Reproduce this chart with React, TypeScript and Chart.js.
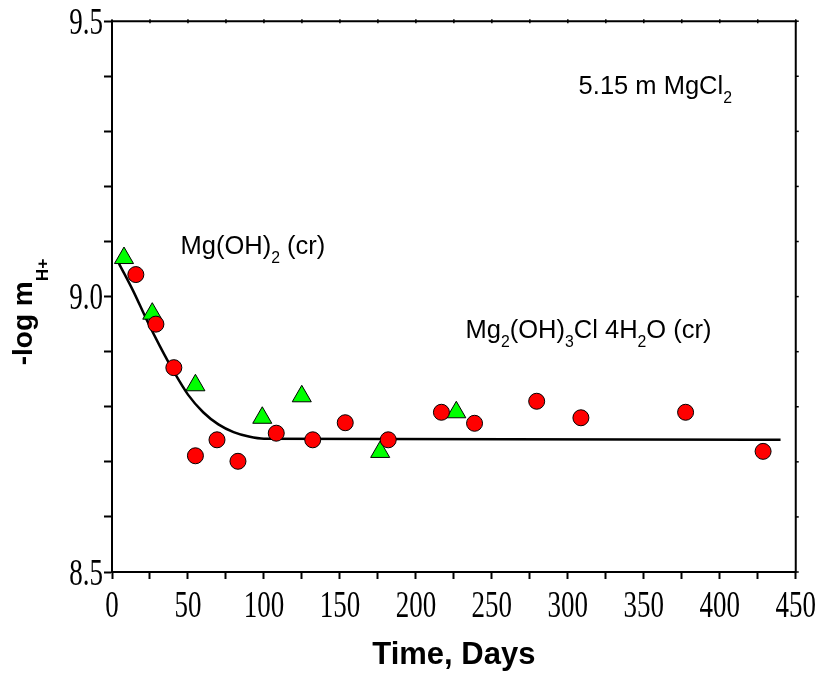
import React, { useEffect, useRef } from "react";
import { Chart, registerables } from "chart.js";
Chart.register(...registerables);

// Red circles: measured -log mH+ vs time (days)
const redDays = [15.7, 28.9, 40.7, 54.9, 69.1, 82.9, 108.1, 132.1, 153.5, 181.8, 216.8, 238.6, 279.5, 308.6, 377.5, 428.5];
const redPH = [9.04, 8.95, 8.871, 8.711, 8.74, 8.701, 8.752, 8.74, 8.771, 8.74, 8.79, 8.77, 8.81, 8.78, 8.79, 8.719];
// Green triangles
const greenDays = [7.9, 26.5, 54.9, 98.9, 124.9, 176.5, 226.6];
const greenPH = [9.07, 8.969, 8.839, 8.78, 8.819, 8.718, 8.79];
// Fitted curve
const fitDays = [4.6, 14, 22.8, 31.5, 40.2, 50, 60, 70, 80, 90, 100, 440];
const fitPH = [9.06, 9.01, 8.958, 8.91, 8.866, 8.822, 8.79, 8.768, 8.754, 8.746, 8.742, 8.74];

const xTicksMajor = [0, 50, 100, 150, 200, 250, 300, 350, 400, 450];
const yTicksMajor = ["8.5", "9.0", "9.5"];

type Run = { t: string; sub?: boolean };
// Annotations: runs, anchor in data units (left, baseline)
const annotations: { runs: Run[]; x: number; y: number }[] = [
  { runs: [{ t: "5.15 m MgCl" }, { t: "2", sub: true }], x: 307.1, y: 9.368 },
  { runs: [{ t: "Mg(OH)" }, { t: "2", sub: true }, { t: " (cr)" }], x: 45.1, y: 9.077 },
  {
    runs: [
      { t: "Mg" }, { t: "2", sub: true }, { t: "(OH)" }, { t: "3", sub: true },
      { t: "Cl 4H" }, { t: "2", sub: true }, { t: "O (cr)" },
    ],
    x: 232.7,
    y: 8.924,
  },
];
const xTitle = "Time, Days";
const yTitleRuns: Run[] = [{ t: "-log m" }, { t: "H+", sub: true }];

const SANS = "'Liberation Sans', Arial, Helvetica, sans-serif";
const SERIF = "'Liberation Serif', 'Times New Roman', serif";
const TICK_SIZE = 27;
const TICK_STRETCH = 1.4;

function runsWidth(ctx: CanvasRenderingContext2D, runs: Run[], size: number, bold: boolean, subScale: number) {
  let w = 0;
  for (const r of runs) {
    const s = r.sub ? size * subScale : size;
    ctx.font = `${bold ? "bold " : ""}${s}px ${SANS}`;
    w += ctx.measureText(r.t).width;
  }
  return w;
}

function drawRuns(
  ctx: CanvasRenderingContext2D, runs: Run[], x: number, y: number,
  size: number, bold: boolean, subScale: number, subOffset: number
) {
  let cx = x;
  ctx.textAlign = "left";
  ctx.textBaseline = "alphabetic";
  for (const r of runs) {
    const s = r.sub ? size * subScale : size;
    ctx.font = `${bold ? "bold " : ""}${s}px ${SANS}`;
    ctx.fillText(r.t, cx, r.sub ? y + subOffset : y);
    cx += ctx.measureText(r.t).width;
  }
}

const decorPlugin = {
  id: "decor",
  afterDraw(chart: any) {
    const { ctx, chartArea, scales } = chart;
    const xs = scales.x;
    const ys = scales.y;
    ctx.save();
    ctx.strokeStyle = "#000";
    ctx.lineWidth = 2;
    ctx.beginPath();
    ctx.moveTo(chartArea.left - 1, chartArea.top);
    ctx.lineTo(chartArea.right, chartArea.top);
    ctx.lineTo(chartArea.right, chartArea.bottom + 1);
    ctx.stroke();
    // small ticks on top and right
    ctx.lineWidth = 1.5;
    for (const t of xs.ticks) {
      const px = xs.getPixelForValue(t.value);
      ctx.beginPath();
      ctx.moveTo(px, chartArea.top - 2);
      ctx.lineTo(px, chartArea.top + 2);
      ctx.stroke();
    }
    for (const t of ys.ticks) {
      const py = ys.getPixelForValue(t.value);
      ctx.beginPath();
      ctx.moveTo(chartArea.right, py);
      ctx.lineTo(chartArea.right + 3, py);
      ctx.stroke();
    }
    ctx.fillStyle = "#000";
    // tick labels (tall serif digits)
    ctx.font = `${TICK_SIZE}px ${SERIF}`;
    ctx.textBaseline = "alphabetic";
    const digitH = 0.676 * TICK_SIZE * TICK_STRETCH;
    ctx.textAlign = "center";
    for (const t of xs.ticks) {
      if (!t.label) continue;
      const px = xs.getPixelForValue(t.value);
      ctx.save();
      ctx.translate(px, 617);
      ctx.scale(1, TICK_STRETCH);
      ctx.fillText(String(t.label), 0, 0);
      ctx.restore();
    }
    ctx.textAlign = "right";
    for (const t of ys.ticks) {
      if (!t.label) continue;
      const py = ys.getPixelForValue(t.value);
      ctx.save();
      ctx.translate(chartArea.left - 9, py + digitH / 2);
      ctx.scale(1, TICK_STRETCH);
      ctx.fillText(String(t.label), 0, 0);
      ctx.restore();
    }
    // annotations
    for (const a of annotations) {
      const px = xs.getPixelForValue(a.x);
      const py = ys.getPixelForValue(a.y);
      drawRuns(ctx, a.runs, px, py, 25.5, false, 0.62, 9);
    }
    // x title
    ctx.font = `bold 31px ${SANS}`;
    ctx.textAlign = "center";
    ctx.textBaseline = "alphabetic";
    ctx.fillText(xTitle, (chartArea.left + chartArea.right) / 2, 664);
    // y title
    const w = runsWidth(ctx, yTitleRuns, 28, true, 0.62);
    ctx.translate(32, 312);
    ctx.rotate(-Math.PI / 2);
    drawRuns(ctx, yTitleRuns, -w / 2, 0, 28, true, 0.62, 16);
    ctx.restore();
  },
};

export default function App() {
  const ref = useRef<HTMLCanvasElement>(null);
  useEffect(() => {
    if (!ref.current) return;
    const chart = new Chart(ref.current, {
      type: "scatter",
      data: {
        datasets: [
          {
            label: "red",
            data: redDays.map((d, i) => ({ x: d, y: redPH[i] })),
            pointStyle: "circle",
            pointRadius: 8,
            pointBackgroundColor: "#ff0000",
            pointBorderColor: "#000",
            pointBorderWidth: 1,
          },
          {
            label: "green",
            data: greenDays.map((d, i) => ({ x: d, y: greenPH[i] })),
            pointStyle: "triangle",
            pointRadius: 11,
            pointBackgroundColor: "#00ff00",
            pointBorderColor: "#000",
            pointBorderWidth: 1,
          },
          {
            label: "fit",
            data: fitDays.map((d, i) => ({ x: d, y: fitPH[i] })),
            showLine: true,
            pointRadius: 0,
            borderColor: "#000",
            borderWidth: 2.5,
            cubicInterpolationMode: "monotone",
          },
        ],
      },
      options: {
        responsive: false,
        animation: false,
        layout: { padding: { left: 0, right: 24, top: 20, bottom: 0 } },
        plugins: { legend: { display: false }, tooltip: { enabled: false } },
        scales: {
          x: {
            type: "linear",
            min: 0,
            max: 450,
            afterFit: (s: any) => { s.height = 101; },
            border: { display: true, color: "#000", width: 2 },
            grid: { drawOnChartArea: false, drawTicks: true, tickLength: 7, tickColor: "#000", tickWidth: 2 },
            ticks: {
              stepSize: 25,
              padding: 6,
              color: "rgba(0,0,0,0)",
              font: { family: SERIF, size: TICK_SIZE },
              maxRotation: 0,
              autoSkip: false,
              callback: (v: any) => (xTicksMajor.includes(Number(v)) ? String(v) : ""),
            },
          },
          y: {
            type: "linear",
            min: 8.5,
            max: 9.5,
            afterFit: (s: any) => { s.width = 112; },
            border: { display: true, color: "#000", width: 2 },
            grid: { drawOnChartArea: false, drawTicks: true, tickLength: 8, tickColor: "#000", tickWidth: 2 },
            ticks: {
              stepSize: 0.1,
              padding: 5,
              color: "rgba(0,0,0,0)",
              font: { family: SERIF, size: TICK_SIZE },
              autoSkip: false,
              callback: (v: any) => {
                const s = Number(v).toFixed(1);
                return yTicksMajor.includes(s) ? s : "";
              },
            },
          },
        },
      },
      plugins: [decorPlugin],
    });
    return () => chart.destroy();
  }, []);
  return (
    <div style={{ position: "absolute", left: 0, top: 0, width: 822, height: 673, background: "#fff" }}>
      <canvas ref={ref} width={822} height={673} style={{ display: "block" }} />
    </div>
  );
}
